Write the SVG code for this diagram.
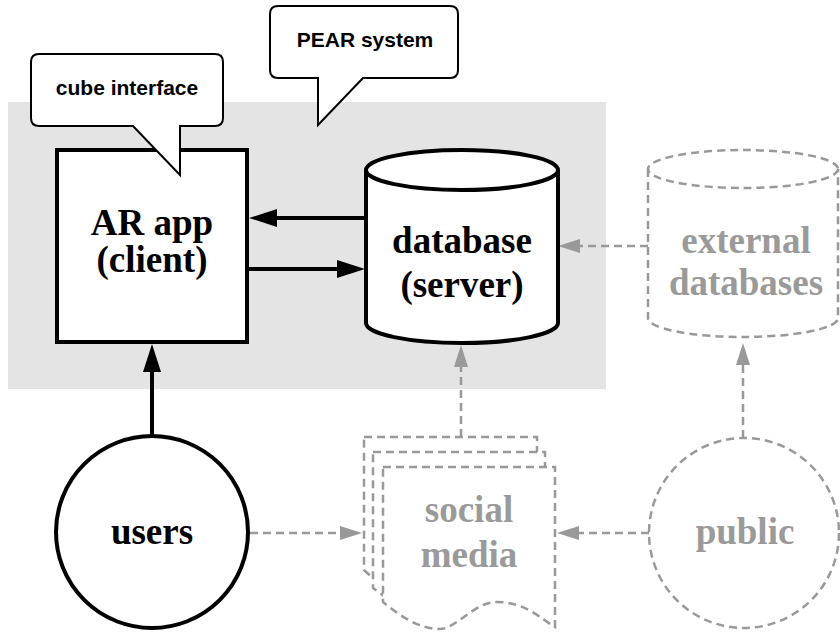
<svg xmlns="http://www.w3.org/2000/svg" width="840" height="633" viewBox="0 0 840 633">
<defs>
<style>
.solid{fill:#fff;stroke:#000;stroke-width:4}
.dash{fill:#fff;stroke:#999;stroke-width:2.5;stroke-dasharray:8 5}
.call{fill:#fff;stroke:#000;stroke-width:2;stroke-linejoin:miter}
.lbl{font-family:"Liberation Serif","Times New Roman",serif;font-weight:bold;font-size:37px;text-anchor:middle;fill:#000}
.glbl{fill:#9a9a9a}
.ctext{font-family:"Liberation Sans",Arial,sans-serif;font-weight:bold;font-size:21px;text-anchor:middle;fill:#000}
.cs{fill:none;stroke:#000;stroke-width:4}
.cd{fill:none;stroke:#999;stroke-width:2.5;stroke-dasharray:8 5}
</style>
<marker id="hs" markerUnits="userSpaceOnUse" markerWidth="28" markerHeight="18" refX="0" refY="9" orient="auto">
<path d="M0,0 L28,9 L0,18 Z" fill="#000"/>
</marker>
<marker id="hd" markerUnits="userSpaceOnUse" markerWidth="22" markerHeight="14" refX="0" refY="7" orient="auto">
<path d="M0,0 L22,7 L0,14 Z" fill="#999"/>
</marker>
</defs>
<rect width="840" height="633" fill="#fff"/>
<rect id="pear-area" x="8" y="102" width="598" height="287" fill="#e4e4e4"/>

<g id="connectors">
<line class="cs" x1="366" y1="218" x2="277" y2="218" marker-end="url(#hs)"/>
<line class="cs" x1="249" y1="269" x2="337" y2="269" marker-end="url(#hs)"/>
<line class="cs" x1="152" y1="436" x2="152" y2="372" marker-end="url(#hs)"/>
<line class="cd" x1="461" y1="437" x2="461" y2="367" marker-end="url(#hd)"/>
<line class="cd" x1="743" y1="438" x2="743" y2="365" marker-end="url(#hd)"/>
<line class="cd" x1="648" y1="246" x2="580" y2="246" marker-end="url(#hd)"/>
<line class="cd" x1="250" y1="533" x2="340" y2="533" marker-end="url(#hd)"/>
<line class="cd" x1="649" y1="533" x2="579" y2="533" marker-end="url(#hd)"/>
</g>

<g id="ar-app">
<rect class="solid" x="57" y="150" width="190" height="192"/>
<text class="lbl" x="152" y="235">AR app</text>
<text class="lbl" x="152" y="272">(client)</text>
</g>

<g id="database">
<path class="solid" d="M366,170 V323 A96,20 0 0 0 558,323 V170"/>
<ellipse class="solid" cx="462" cy="170" rx="96" ry="20"/>
<text class="lbl" x="462" y="253">database</text>
<text class="lbl" x="462" y="297">(server)</text>
</g>

<g id="external-databases">
<path class="dash" d="M648,169 V318 A95,19 0 0 0 838,318 V169"/>
<ellipse class="dash" cx="743" cy="169" rx="95" ry="19"/>
<text class="lbl glbl" x="746" y="253">external</text>
<text class="lbl glbl" x="746" y="295">databases</text>
</g>

<g id="users">
<circle class="solid" cx="152" cy="532" r="96"/>
<text class="lbl" x="152" y="544">users</text>
</g>

<g id="social-media">
<path class="dash" d="M364,437 H537 V597 C522,588 507,572 478,572 C455,572 437,599 421,599 C400,599 381,586 364,570 Z"/>
<path class="dash" d="M373,452 H545 V612 C531,603 516,587 487,587 C464,587 446,614 430,614 C409,614 390,601 373,588 Z"/>
<path class="dash" d="M383,467 H555 V627 C540,618 525,602 497,602 C474,602 456,629 440,629 C419,629 400,616 383,602 Z"/>
<text class="lbl glbl" x="469" y="522">social</text>
<text class="lbl glbl" x="469" y="567">media</text>
</g>

<g id="public">
<circle class="dash" cx="744" cy="533" r="95"/>
<text class="lbl glbl" x="745" y="544">public</text>
</g>

<g id="cube-interface">
<path class="call" d="M39,54 H215 Q223,54 223,62 V118 Q223,126 215,126 H180 V175 L133,126 H39 Q31,126 31,118 V62 Q31,54 39,54 Z"/>
<text class="ctext" x="127" y="95">cube interface</text>
</g>

<g id="pear-system">
<path class="call" d="M278,6 H450 Q458,6 458,14 V70 Q458,78 450,78 H363 L318,125 V78 H278 Q270,78 270,70 V14 Q270,6 278,6 Z"/>
<text class="ctext" x="365" y="47">PEAR system</text>
</g>
</svg>
